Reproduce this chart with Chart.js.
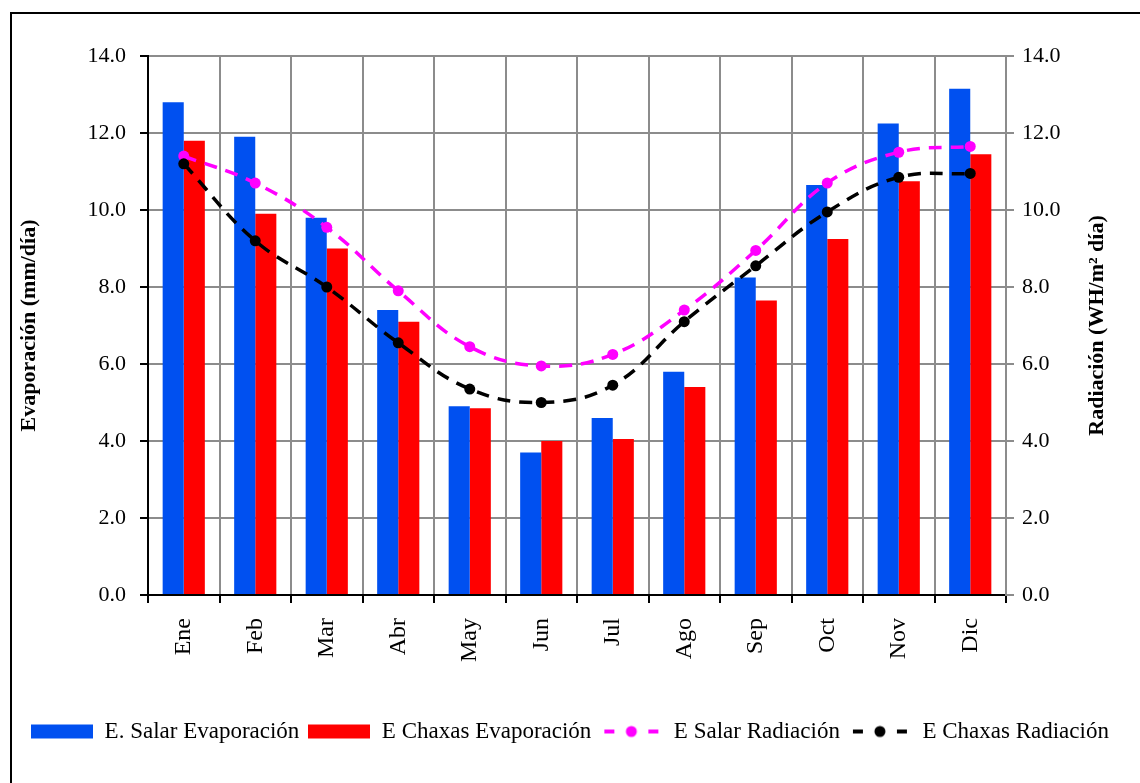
<!DOCTYPE html>
<html>
<head>
<meta charset="utf-8">
<script src="https://cdn.jsdelivr.net/npm/chart.js@4/dist/chart.umd.min.js"></script>
<style>
  html, body { margin: 0; padding: 0; background: #fff; }
  #wrap { position: relative; width: 1140px; height: 783px; overflow: hidden; }
  #frame { position: absolute; left: 10px; top: 12px; width: 1160px; height: 800px; border: 2px solid #000; box-sizing: border-box; }
  #wrap canvas { position: absolute; left: 0; top: 0; }
</style>
</head>
<body>
<div id="wrap">
  <div id="frame"></div>
  <canvas id="chart" width="1140" height="783"></canvas>
</div>
<script>
  const months = ["Ene", "Feb", "Mar", "Abr", "May", "Jun", "Jul", "Ago", "Sep", "Oct", "Nov", "Dic"];

  // evaporación (mm/día)
  const salarEvap = [12.8, 11.9, 9.8, 7.4, 4.9, 3.7, 4.6, 5.8, 8.25, 10.65, 12.25, 13.15];
  const chaxasEvap = [11.8, 9.9, 9.0, 7.1, 4.85, 4.0, 4.05, 5.4, 7.65, 9.25, 10.75, 11.45];

  // radiación (WH/m2 día)
  const salarRad = [11.4, 10.7, 9.55, 7.9, 6.45, 5.95, 6.25, 7.4, 8.95, 10.7, 11.5, 11.65];
  const chaxasRad = [11.2, 9.2, 8.0, 6.55, 5.35, 5.0, 5.45, 7.1, 8.55, 9.95, 10.85, 10.95];

  const BLUE = "#0050f0";
  const RED = "#ff0000";
  const MAGENTA = "#ff00ff";
  const BLACK = "#000000";
  const GRID = "#8c8c8c";
  const FONT = "'Liberation Serif', 'Times New Roman', serif";

  //---------------------------------------------------
  // legend icons
  //---------------------------------------------------

  function boxIcon(color) {
    const c = document.createElement("canvas");
    c.width = 62; c.height = 16;
    const g = c.getContext("2d");
    g.fillStyle = color;
    g.fillRect(0, 1, 62, 14);
    return c;
  }

  function lineIcon(color) {
    const c = document.createElement("canvas");
    c.width = 62; c.height = 16;
    const g = c.getContext("2d");
    g.strokeStyle = color;
    g.fillStyle = color;
    g.lineWidth = 4;
    g.beginPath();
    g.moveTo(4, 8); g.lineTo(14, 8);
    g.moveTo(48, 8); g.lineTo(58, 8);
    g.stroke();
    g.beginPath();
    g.arc(31, 8, 5.5, 0, Math.PI * 2);
    g.fill();
    return c;
  }

  const legendIcons = [boxIcon(BLUE), boxIcon(RED), lineIcon(MAGENTA), lineIcon(BLACK)];

  //---------------------------------------------------
  // right axis title (reads bottom to top like the left one)
  //---------------------------------------------------

  const rightTitle = {
    id: "rightTitle",
    afterDraw(chart) {
      const ctx = chart.ctx;
      const area = chart.chartArea;
      ctx.save();
      ctx.translate(1097, (area.top + area.bottom) / 2);
      ctx.rotate(-Math.PI / 2);
      ctx.font = "bold 22px " + FONT;
      ctx.fillStyle = "#000";
      ctx.textAlign = "center";
      ctx.textBaseline = "middle";
      ctx.fillText("Radiación (WH/m² día)", 0, 0);
      ctx.restore();
    }
  };

  //---------------------------------------------------
  // chart
  //---------------------------------------------------

  const ctx = document.getElementById("chart");

  const chart = new Chart(ctx, {
    type: "bar",
    data: {
      labels: months,
      datasets: [
        {
          label: "E. Salar Evaporación",
          data: salarEvap,
          backgroundColor: BLUE,
          yAxisID: "y",
          order: 2,
          categoryPercentage: 0.59,
          barPercentage: 1.0,
        },
        {
          label: "E Chaxas Evaporación",
          data: chaxasEvap,
          backgroundColor: RED,
          yAxisID: "y",
          order: 2,
          categoryPercentage: 0.59,
          barPercentage: 1.0,
        },
        {
          type: "line",
          label: "E Salar Radiación",
          data: salarRad,
          borderColor: MAGENTA,
          backgroundColor: MAGENTA,
          borderWidth: 3.5,
          borderDash: [13, 9],
          pointRadius: 5.5,
          pointBorderWidth: 0,
          tension: 0.4,
          fill: false,
          yAxisID: "y2",
          order: 1,
        },
        {
          type: "line",
          label: "E Chaxas Radiación",
          data: chaxasRad,
          borderColor: BLACK,
          backgroundColor: BLACK,
          borderWidth: 3.5,
          borderDash: [13, 9],
          pointRadius: 5.5,
          pointBorderWidth: 0,
          tension: 0.4,
          fill: false,
          yAxisID: "y2",
          order: 0,
        },
      ],
    },
    options: {
      responsive: false,
      animation: false,
      layout: { padding: { top: 56, bottom: 30, left: 0, right: 0 } },
      plugins: {
        tooltip: { enabled: false },
        legend: {
          position: "bottom",
          labels: {
            usePointStyle: true,
            pointStyleWidth: 62,
            boxHeight: 16,
            padding: 9,
            color: "#000",
            font: { family: FONT, size: 23 },
            generateLabels: (ch) => ch.data.datasets.map((ds, i) => ({
              text: ds.label,
              pointStyle: legendIcons[i],
              datasetIndex: i,
              hidden: false,
              lineWidth: 0,
              fillStyle: "transparent",
              strokeStyle: "transparent",
              fontColor: "#000",
            })),
          },
        },
      },
      scales: {
        x: {
          offset: true,
          grid: { offset: true, color: GRID, lineWidth: 2, tickColor: "#000", tickLength: 8 },
          border: { color: "#000", width: 2 },
          ticks: {
            maxRotation: 90, minRotation: 90, autoSkip: false, padding: 15,
            color: "#000", font: { family: FONT, size: 24 },
          },
          afterFit: (s) => { s.height = 116; },
        },
        y: {
          position: "left",
          min: 0, max: 14,
          grid: { color: GRID, lineWidth: 2, tickColor: "#000", tickLength: 8 },
          border: { color: "#000", width: 2 },
          ticks: {
            stepSize: 2, padding: 14, color: "#000",
            font: { family: FONT, size: 22 },
            callback: (v) => v.toFixed(1),
          },
          title: {
            display: true,
            text: "Evaporación (mm/día)",
            color: "#000",
            font: { family: FONT, size: 22, weight: "bold" },
            padding: { top: 16, bottom: 0 },
          },
          afterFit: (s) => { s.width = 148; },
        },
        y2: {
          position: "right",
          min: 0, max: 14,
          grid: { drawOnChartArea: false, color: GRID, lineWidth: 2, tickLength: 8 },
          border: { color: GRID, width: 2 },
          ticks: {
            stepSize: 2, padding: 8, color: "#000",
            font: { family: FONT, size: 22 },
            callback: (v) => v.toFixed(1),
          },
          afterFit: (s) => { s.width = 134; },
        },
      },
    },
    plugins: [rightTitle],
  });
</script>
</body>
</html>
